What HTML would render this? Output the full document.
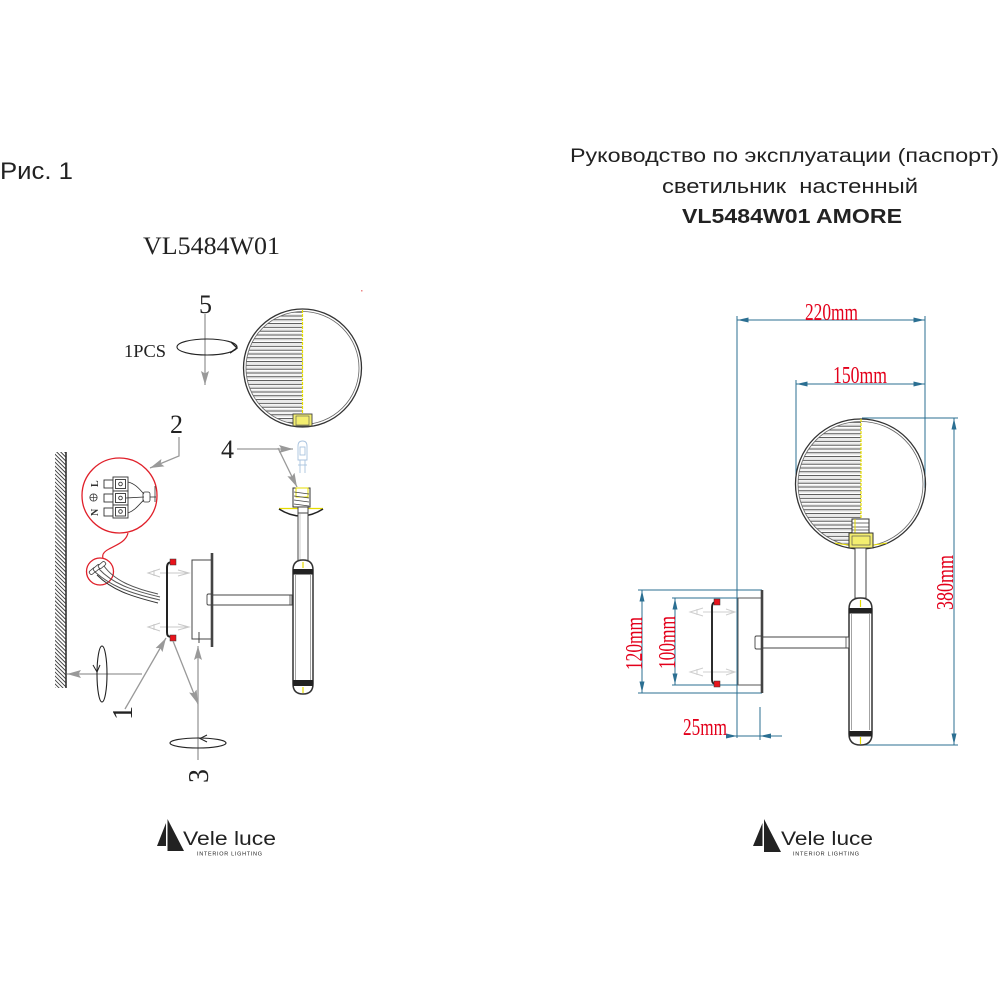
<!DOCTYPE html>
<html><head><meta charset="utf-8">
<style>html,body{margin:0;padding:0;background:#fff;}svg{display:block}</style></head>
<body>
<svg width="1000" height="1000" viewBox="0 0 1000 1000" xmlns="http://www.w3.org/2000/svg">
<defs>
<marker id="ga" viewBox="0 0 14 8" markerWidth="14" markerHeight="8" refX="14" refY="4" orient="auto" markerUnits="userSpaceOnUse"><path d="M0,0 L14,4 L0,8 L2.5,4z" fill="#999"/></marker>
<marker id="da" viewBox="0 0 11 6" markerWidth="11" markerHeight="6" refX="11" refY="3" orient="auto-start-reverse" markerUnits="userSpaceOnUse"><path d="M0,0.5 L11,3 L0,5.5z" fill="#2b6f92"/></marker>
<pattern id="wallh" width="2.8" height="10" patternUnits="userSpaceOnUse" patternTransform="rotate(-45)"><line x1="0.5" y1="0" x2="0.5" y2="10" stroke="#333" stroke-width="0.9"/></pattern>
<pattern id="slat" width="20" height="3.8" patternUnits="userSpaceOnUse"><rect width="20" height="3.8" fill="#fff"/><line x1="0" y1="0.6" x2="20" y2="0.6" stroke="#444" stroke-width="1"/><line x1="0" y1="2.6" x2="20" y2="2.6" stroke="#c8c8c8" stroke-width="0.4"/></pattern>
<clipPath id="cl"><circle cx="302.5" cy="368" r="56.5"/></clipPath>
<clipPath id="cr"><circle cx="860.5" cy="484" r="62.5"/></clipPath>
</defs>

<!-- ===== Header texts ===== -->
<text x="0" y="179" font-family="Liberation Sans, DejaVu Sans, sans-serif" font-size="24" textLength="73" lengthAdjust="spacingAndGlyphs" fill="#222">Рис. 1</text>
<text x="570" y="162" font-family="Liberation Sans, DejaVu Sans, sans-serif" font-size="19" textLength="429" lengthAdjust="spacingAndGlyphs" fill="#222">Руководство по эксплуатации (паспорт)</text>
<text x="662" y="193" font-family="Liberation Sans, DejaVu Sans, sans-serif" font-size="20.5" textLength="256" lengthAdjust="spacingAndGlyphs" fill="#222" style="white-space:pre">светильник  настенный</text>
<text x="682" y="223" font-family="Liberation Sans, DejaVu Sans, sans-serif" font-size="20.5" font-weight="bold" textLength="220" lengthAdjust="spacingAndGlyphs" fill="#222">VL5484W01 AMORE</text>
<text x="143" y="254" font-family="Liberation Serif, DejaVu Serif, serif" font-size="25" textLength="137" lengthAdjust="spacingAndGlyphs" fill="#222">VL5484W01</text>

<!-- ===== LEFT DIAGRAM ===== -->
<rect x="55" y="452" width="11" height="236" fill="url(#wallh)"/>
<line x1="66" y1="452" x2="66" y2="688" stroke="#333" stroke-width="1.6"/>

<text x="199" y="313" font-family="Liberation Serif, serif" font-size="26" fill="#222">5</text>
<line x1="205" y1="314" x2="205" y2="385" stroke="#999" stroke-width="1.3" marker-end="url(#ga)"/>
<ellipse cx="207" cy="347" rx="30" ry="8" fill="none" stroke="#222" stroke-width="1.1"/>
<polyline points="231,342 237,348 230,353" fill="none" stroke="#222" stroke-width="1.4"/>
<text x="124" y="357" font-family="Liberation Serif, serif" font-size="18" textLength="42" lengthAdjust="spacingAndGlyphs" fill="#222">1PCS</text>

<g clip-path="url(#cl)"><rect x="244" y="309" width="58.5" height="118" fill="url(#slat)"/></g>
<circle cx="302.5" cy="368" r="59" fill="none" stroke="#333" stroke-width="1.3"/>
<circle cx="302.5" cy="368" r="56.5" fill="none" stroke="#666" stroke-width="0.8"/>
<line x1="302.5" y1="310" x2="302.5" y2="426" stroke="#e8e000" stroke-width="1.2" stroke-dasharray="3,1"/>
<rect x="293" y="414" width="19" height="12" fill="#f3ee70" stroke="#444" stroke-width="0.9"/>
<rect x="296" y="416" width="13" height="9" fill="none" stroke="#555" stroke-width="0.6"/>

<text x="170" y="433" font-family="Liberation Serif, serif" font-size="26" fill="#222">2</text>
<polyline points="179,437 179,456 150,468" fill="none" stroke="#999" stroke-width="1.3" marker-end="url(#ga)"/>

<text x="221" y="458" font-family="Liberation Serif, serif" font-size="26" fill="#222">4</text>
<line x1="237" y1="449" x2="293" y2="449" stroke="#999" stroke-width="1.3" marker-end="url(#ga)"/>
<line x1="278" y1="448" x2="297" y2="487" stroke="#999" stroke-width="1.3" marker-end="url(#ga)"/>

<g fill="none" stroke="#a9c3df" stroke-width="0.9">
<path d="M298,460 L298,446 Q298,441 302.5,441 Q307,441 307,446 L307,460 Z"/>
<rect x="300" y="447" width="5" height="8"/>
<line x1="300" y1="460" x2="300" y2="473"/><line x1="305" y1="460" x2="305" y2="473"/>
<line x1="298" y1="465" x2="307" y2="465"/>
</g>

<rect x="293" y="488" width="17" height="19" fill="#fff" stroke="#333" stroke-width="1"/>
<rect x="296" y="488" width="12" height="9" fill="none" stroke="#e6dc00" stroke-width="1"/>
<g stroke="#444" stroke-width="0.8">
<line x1="294" y1="492" x2="309" y2="494"/><line x1="294" y1="496" x2="309" y2="498"/><line x1="294" y1="500" x2="309" y2="502"/><line x1="294" y1="504" x2="309" y2="506"/>
</g>
<line x1="279" y1="508.5" x2="323" y2="508.5" stroke="#e6dc00" stroke-width="1.2"/>
<path d="M279,509 Q301,523 323,509" fill="none" stroke="#222" stroke-width="1.6"/>
<rect x="298" y="507" width="10" height="6" fill="#fff" stroke="#333" stroke-width="0.9"/>
<rect x="298" y="513" width="10" height="48" fill="#fff" stroke="#444" stroke-width="1"/>
<line x1="300" y1="513" x2="300" y2="560" stroke="#999" stroke-width="0.5"/>
<path d="M293,570 L293,684 Q293,694 303,694 Q313,694 313,684 L313,570 Q313,560 303,560 Q293,560 293,570 Z" fill="#fff" stroke="#333" stroke-width="1.5"/>
<line x1="295.5" y1="575" x2="295.5" y2="680" stroke="#666" stroke-width="0.6"/>
<line x1="310.5" y1="575" x2="310.5" y2="680" stroke="#666" stroke-width="0.6"/>
<rect x="293" y="569" width="20" height="5.5" fill="#222"/>
<rect x="293" y="680" width="20" height="6" fill="#222"/>
<line x1="303" y1="562" x2="303" y2="568" stroke="#e6dc00" stroke-width="1.2"/>
<line x1="303" y1="687" x2="303" y2="693" stroke="#e6dc00" stroke-width="1.2"/>
<rect x="212" y="595" width="80" height="10" fill="#fff" stroke="#444" stroke-width="1"/>
<line x1="290" y1="595" x2="290" y2="605" stroke="#444" stroke-width="0.8"/>
<rect x="207" y="594" width="5" height="11" rx="1.5" fill="#fff" stroke="#444" stroke-width="0.9"/>
<rect x="192" y="560" width="20" height="79" fill="none" stroke="#444" stroke-width="1"/>
<line x1="212" y1="553" x2="212" y2="647" stroke="#444" stroke-width="2.6"/>
<line x1="199" y1="632" x2="199" y2="643" stroke="#444" stroke-width="1"/>
<g stroke="#c8c8c8" stroke-width="1" fill="none">
<line x1="160" y1="573" x2="189" y2="573"/><line x1="160" y1="627" x2="189" y2="627"/>
<path d="M160,569 L148,573 L160,577 M154,570 L154,576"/>
<path d="M160,623 L148,627 L160,631 M154,624 L154,630"/>
<path d="M178,570 L189,573 L178,576"/><path d="M178,624 L189,627 L178,630"/>
</g>
<path d="M173,562 C168,562 167,564 167,568 L167,632 C167,636 168,637 173,637" fill="none" stroke="#222" stroke-width="2"/>
<rect x="170" y="559" width="6" height="6" fill="#e8141c" stroke="#333" stroke-width="0.5"/>
<rect x="170" y="635" width="6" height="6" fill="#e8141c" stroke="#333" stroke-width="0.5"/>

<circle cx="119.5" cy="495.5" r="37.5" fill="#fff" stroke="#e0202a" stroke-width="1.3"/>
<g stroke="#333" stroke-width="0.9" fill="#fff">
<rect x="104" y="480" width="9" height="8"/><rect x="104" y="494" width="9" height="8"/><rect x="104" y="508" width="9" height="8"/>
<rect x="113" y="477" width="15" height="14"/><rect x="113" y="491" width="15" height="14"/><rect x="113" y="505" width="15" height="13"/>
<rect x="115.5" y="479.5" width="10" height="9" fill="none"/><rect x="115.5" y="493.5" width="10" height="9" fill="none"/><rect x="115.5" y="507.5" width="10" height="8.5" fill="none"/>
<circle cx="120.5" cy="484" r="1.8" fill="none"/><circle cx="120.5" cy="498" r="1.8" fill="none"/><circle cx="120.5" cy="511.5" r="1.8" fill="none"/>
</g>
<g fill="none" stroke="#333" stroke-width="0.8">
<path d="M128,482 C136,484 140,490 144,494"/>
<path d="M126,498 L144,497"/>
<path d="M128,513 C136,510 140,503 144,500"/>
<rect x="143" y="492" width="7" height="10" rx="2"/>
<line x1="150" y1="497" x2="156" y2="497"/>
<line x1="155" y1="486" x2="155" y2="502"/>
</g>
<text transform="translate(98,487) rotate(-90)" font-family="Liberation Serif, serif" font-size="10" font-weight="bold" fill="#333">L</text>
<circle cx="93.5" cy="497.5" r="3.6" fill="none" stroke="#444" stroke-width="0.9"/>
<path d="M90,497.5 L97,497.5 M93.5,494 L93.5,501" stroke="#444" stroke-width="0.7"/>
<text transform="translate(98,516) rotate(-90)" font-family="Liberation Serif, serif" font-size="10" font-weight="bold" fill="#333">N</text>
<path d="M128,533 C126,542 116,545 109,549 C103,552 102,555 103,558" fill="none" stroke="#e0202a" stroke-width="1.2"/>
<circle cx="100" cy="571.5" r="13.5" fill="#fff" stroke="#e0202a" stroke-width="1.3"/>
<g fill="none" stroke="#555" stroke-width="1">
<path d="M95,572 C110,585 125,592 160,600"/>
<path d="M99,569 C112,583 130,590 160,597"/>
<path d="M104,566 C114,580 132,588 158,594"/>
<path d="M97,575 C112,590 130,596 158,603" stroke="#333"/>
</g>
<g fill="#fff" stroke="#444" stroke-width="0.8">
<rect x="89" y="569" width="8" height="4" rx="1.5" transform="rotate(-40 93 571)"/>
<rect x="93" y="566" width="8" height="4" rx="1.5" transform="rotate(-40 97 568)"/>
<rect x="98" y="563" width="8" height="4" rx="1.5" transform="rotate(-40 102 565)"/>
</g>

<line x1="125" y1="709" x2="166" y2="638" stroke="#999" stroke-width="1.3" marker-end="url(#ga)"/>
<line x1="142" y1="674" x2="67" y2="674" stroke="#999" stroke-width="1.3" marker-end="url(#ga)"/>
<ellipse cx="102" cy="674" rx="5" ry="28" fill="none" stroke="#222" stroke-width="1.1"/>
<polyline points="93,665 97,672 100,665" fill="none" stroke="#222" stroke-width="1"/>
<line x1="173" y1="641" x2="198" y2="704" stroke="#999" stroke-width="1.3" marker-end="url(#ga)"/>
<line x1="198" y1="760" x2="198" y2="646" stroke="#999" stroke-width="1.3" marker-end="url(#ga)"/>
<ellipse cx="198" cy="743" rx="28" ry="5" fill="none" stroke="#222" stroke-width="1.1"/>
<polyline points="207,735 200,738.5 207,742" fill="none" stroke="#222" stroke-width="1"/>
<text transform="translate(132,720) rotate(-90)" font-family="Liberation Serif, serif" font-size="28" fill="#222">1</text>
<text transform="translate(208,783) rotate(-90)" font-family="Liberation Serif, serif" font-size="28" fill="#222">3</text>

<!-- ===== RIGHT DIAGRAM ===== -->
<g stroke="#2b6f92" stroke-width="1" fill="none">
<line x1="737" y1="316" x2="737" y2="738"/>
<line x1="925" y1="316" x2="925" y2="488"/>
<line x1="796" y1="380" x2="796" y2="478"/>
<line x1="737.5" y1="320" x2="924.5" y2="320" marker-start="url(#da)" marker-end="url(#da)"/>
<line x1="796.5" y1="384" x2="924.5" y2="384" marker-start="url(#da)" marker-end="url(#da)"/>
<line x1="862" y1="418" x2="958" y2="418"/>
<line x1="862" y1="745" x2="958" y2="745"/>
<line x1="954" y1="418.5" x2="954" y2="744.5" marker-start="url(#da)" marker-end="url(#da)"/>
<line x1="638" y1="590" x2="762" y2="590"/>
<line x1="638" y1="693" x2="762" y2="693"/>
<line x1="642" y1="590.5" x2="642" y2="692.5" marker-start="url(#da)" marker-end="url(#da)"/>
<line x1="672" y1="598" x2="738" y2="598"/>
<line x1="672" y1="685" x2="738" y2="685"/>
<line x1="675" y1="598.5" x2="675" y2="684.5" marker-start="url(#da)" marker-end="url(#da)"/>
<line x1="760" y1="707" x2="760" y2="740"/>
<line x1="728" y1="736" x2="782" y2="736"/>
<line x1="727" y1="736" x2="737" y2="736" marker-end="url(#da)"/>
<line x1="771" y1="736" x2="760" y2="736" marker-end="url(#da)"/>
</g>
<g font-family="Liberation Serif, serif" font-size="24" fill="#e3001b">
<text x="805" y="320" textLength="53" lengthAdjust="spacingAndGlyphs">220mm</text>
<text x="833" y="383" textLength="54" lengthAdjust="spacingAndGlyphs">150mm</text>
<text x="683" y="735" textLength="44" lengthAdjust="spacingAndGlyphs">25mm</text>
<text transform="translate(642,670) rotate(-90)" textLength="53" lengthAdjust="spacingAndGlyphs">120mm</text>
<text transform="translate(675,669) rotate(-90)" textLength="53" lengthAdjust="spacingAndGlyphs">100mm</text>
<text transform="translate(953,610) rotate(-90)" textLength="55" lengthAdjust="spacingAndGlyphs">380mm</text>
</g>

<g clip-path="url(#cr)"><rect x="797" y="419" width="64" height="131" fill="url(#slat)"/></g>
<circle cx="860.5" cy="484" r="65" fill="none" stroke="#333" stroke-width="1.3"/>
<circle cx="860.5" cy="484" r="62.5" fill="none" stroke="#666" stroke-width="0.8"/>
<line x1="861" y1="419" x2="861" y2="549" stroke="#e8e000" stroke-width="1.2" stroke-dasharray="3,1"/>
<path d="M835,543 Q861,548 887,543" fill="none" stroke="#e6dc00" stroke-width="1"/>
<rect x="852" y="519" width="17" height="14" fill="#fff" stroke="#333" stroke-width="1"/>
<g stroke="#444" stroke-width="0.7"><line x1="852" y1="523" x2="869" y2="523"/><line x1="852" y1="527" x2="869" y2="527"/><line x1="852" y1="530" x2="869" y2="530"/></g>
<line x1="855" y1="519" x2="855" y2="533" stroke="#e6dc00" stroke-width="1"/>
<rect x="849" y="533" width="24" height="15" fill="#f3ee70" stroke="#333" stroke-width="1"/>
<rect x="852" y="536" width="18" height="9" fill="none" stroke="#555" stroke-width="0.7"/>
<rect x="855" y="548" width="11" height="50" fill="#fff" stroke="#444" stroke-width="1"/>
<path d="M849,609 L849,734 Q849,745 860.5,745 Q872,745 872,734 L872,609 Q872,598 860.5,598 Q849,598 849,609 Z" fill="#fff" stroke="#333" stroke-width="1.5"/>
<line x1="851.5" y1="614" x2="851.5" y2="730" stroke="#666" stroke-width="0.6"/>
<line x1="869.5" y1="614" x2="869.5" y2="730" stroke="#666" stroke-width="0.6"/>
<rect x="849" y="608" width="23" height="5.5" fill="#222"/>
<rect x="849" y="731" width="23" height="5.5" fill="#222"/>
<line x1="860.5" y1="600" x2="860.5" y2="607" stroke="#e6dc00" stroke-width="1.2"/>
<line x1="860.5" y1="737" x2="860.5" y2="744" stroke="#e6dc00" stroke-width="1.2"/>
<rect x="762" y="637" width="87" height="11" fill="#fff" stroke="#444" stroke-width="1"/>
<line x1="846" y1="637" x2="846" y2="648" stroke="#444" stroke-width="0.8"/>
<rect x="755" y="636" width="7" height="13" rx="1.5" fill="#fff" stroke="#444" stroke-width="0.9"/>
<rect x="738" y="598" width="24" height="87" fill="none" stroke="#555" stroke-width="1"/>
<line x1="762" y1="590" x2="762" y2="693" stroke="#444" stroke-width="2.6"/>
<g stroke="#cfcfcf" stroke-width="1" fill="none">
<line x1="703" y1="612" x2="735" y2="612"/><line x1="703" y1="672" x2="735" y2="672"/>
<path d="M703,608 L690,612 L703,616 M697,609 L697,615"/>
<path d="M703,668 L690,672 L703,676 M697,669 L697,675"/>
<path d="M726,609 L735,612 L726,615"/><path d="M726,669 L735,672 L726,675"/>
</g>
<path d="M717,602 C713,602 712,604 712,608 L712,679 C712,683 713,684 717,684" fill="none" stroke="#222" stroke-width="1.9"/>
<rect x="714" y="599" width="6" height="6" fill="#e8141c" stroke="#333" stroke-width="0.5"/>
<rect x="714" y="681" width="6" height="6" fill="#e8141c" stroke="#333" stroke-width="0.5"/>

<!-- ===== LOGOS ===== -->
<g fill="#222">
<polygon points="157,846 166,823 166,846"/>
<polygon points="167.5,819 184,851 167.5,851"/>
<text x="183" y="845" font-family="Liberation Sans, sans-serif" font-size="19" textLength="93" lengthAdjust="spacingAndGlyphs">Vele luce</text>
<text x="197" y="855.5" font-family="Liberation Sans, sans-serif" font-size="5.5" textLength="65" lengthAdjust="spacing">INTERIOR LIGHTING</text>
</g>
<g fill="#222">
<polygon points="753,846 762.5,823 762.5,846"/>
<polygon points="764,819 781,852 764,852"/>
<text x="781" y="845" font-family="Liberation Sans, sans-serif" font-size="19" textLength="92" lengthAdjust="spacingAndGlyphs">Vele luce</text>
<text x="793" y="855.5" font-family="Liberation Sans, sans-serif" font-size="5.5" textLength="66" lengthAdjust="spacing">INTERIOR LIGHTING</text>
</g>
<rect x="361" y="290" width="1.5" height="1.5" fill="#e88"/>
</svg>
</body></html>
